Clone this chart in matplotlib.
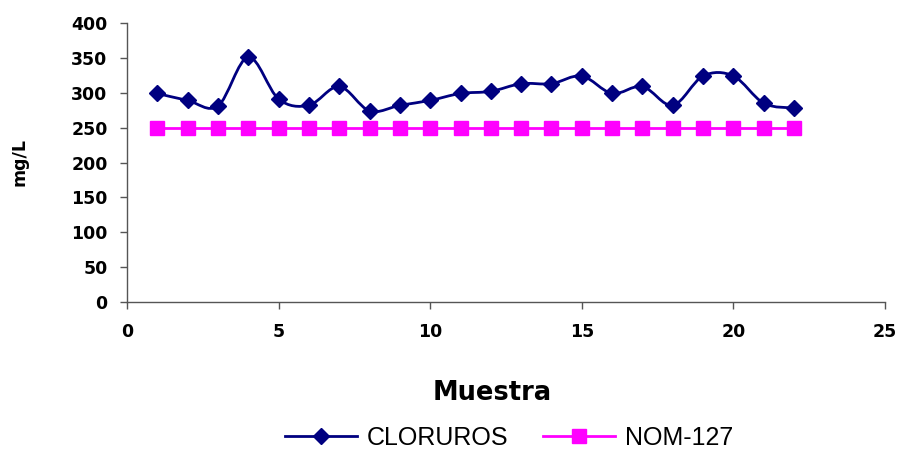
import matplotlib.pyplot as plt
import numpy as np
from matplotlib.path import Path
from matplotlib.patches import PathPatch
from matplotlib.lines import Line2D

plt.rcParams['font.family'] = ['DejaVu Sans']

muestra = list(range(1, 23))
cloruros = [299, 289, 281, 351, 291, 282, 309, 274, 282, 289, 299, 302,
            313, 313, 324, 299, 309, 282, 324, 324, 285, 278]
nom127 = [250] * 22

navy = '#000080'
magenta = '#ff00ff'
axcol = '#555555'


def smooth_path(x, y, t=1 / 6.0):
    # Excel style smoothed line: cubic bezier between the points
    x = np.asarray(x, float)
    y = np.asarray(y, float)
    verts = [(x[0], y[0])]
    codes = [Path.MOVETO]
    n = len(x)
    for i in range(n - 1):
        x0, y0 = (x[i - 1], y[i - 1]) if i > 0 else (x[i], y[i])
        x3, y3 = (x[i + 2], y[i + 2]) if i + 2 < n else (x[i + 1], y[i + 1])
        c1 = (x[i] + (x[i + 1] - x0) * t, y[i] + (y[i + 1] - y0) * t)
        c2 = (x[i + 1] - (x3 - x[i]) * t, y[i + 1] - (y3 - y[i]) * t)
        verts += [c1, c2, (x[i + 1], y[i + 1])]
        codes += [Path.CURVE4] * 3
    return Path(verts, codes)


fig = plt.figure(figsize=(9.02, 4.53), dpi=100)
ax = fig.add_axes([127 / 902, 1 - 302 / 453, (885 - 127) / 902, (302 - 23) / 453])

ax.plot(muestra, nom127, color=magenta, lw=2, marker='s', ms=10,
        markeredgecolor=magenta, zorder=2)
ax.add_patch(PathPatch(smooth_path(muestra, cloruros), fill=False,
                       edgecolor=navy, lw=2, zorder=3))
ax.plot(muestra, cloruros, ls='none', marker='D', ms=8, color=navy, zorder=4)

ax.set_xlim(0, 25)
ax.set_ylim(0, 400)
ax.set_xticks(range(0, 26, 5))
ax.set_yticks(range(0, 401, 50))
for s in ['top', 'right']:
    ax.spines[s].set_visible(False)
for s in ['left', 'bottom']:
    ax.spines[s].set_color(axcol)
    ax.spines[s].set_linewidth(1)
ax.tick_params(direction='out', length=5, color=axcol, width=1,
               labelsize=12.5)
ax.tick_params(axis='y', pad=9)
ax.tick_params(axis='x', pad=10)
for lbl in ax.get_xticklabels() + ax.get_yticklabels():
    lbl.set_fontweight('bold')

fig.text(19 / 902, 1 - 162 / 453, 'mg/L', rotation=90, ha='center', va='center',
         fontsize=12.5, fontweight='bold')
fig.text(492 / 902, 1 - 393 / 453, 'Muestra', ha='center', va='center',
         fontsize=18.5, fontweight='bold')

handles = [Line2D([], [], color=navy, lw=2, marker='D', ms=8),
           Line2D([], [], color=magenta, lw=2, marker='s', ms=10)]
fig.legend(handles, ['CLORUROS', 'NOM-127'], loc='center',
           bbox_to_anchor=(509 / 902, 1 - 438 / 453), ncol=2, frameon=False,
           prop={'family': 'Liberation Sans', 'size': 18},
           handlelength=2.9, handletextpad=0.4, columnspacing=1.35,
           borderaxespad=0, borderpad=0)

fig.savefig('out.png', dpi=100)
